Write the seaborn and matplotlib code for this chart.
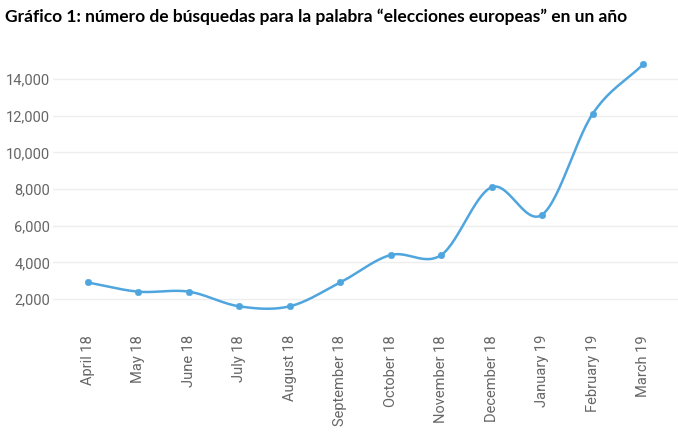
import numpy as np
import pandas as pd
import seaborn as sns
import matplotlib.pyplot as plt

months = ["April 18", "May 18", "June 18", "July 18", "August 18", "September 18",
          "October 18", "November 18", "December 18", "January 19", "February 19", "March 19"]
searches = [2900, 2400, 2400, 1600, 1600, 2900, 4400, 4400, 8100, 6600, 12100, 14800]
yticks = [2000, 4000, 6000, 8000, 10000, 12000, 14000]
title = "Gráfico 1: número de búsquedas para la palabra “elecciones europeas” en un año"

line_color = "#4FA5DE"

sns.set_style("white")
plt.rcParams['font.family'] = ['Roboto', 'DejaVu Sans']

df = pd.DataFrame({"x": np.arange(len(months)), "y": searches})

# smooth curve through the points (Catmull-Rom), like the original chart
def catmull_rom(x, y, n=30):
    x = np.asarray(x, float)
    y = np.asarray(y, float)
    px = np.concatenate([[2 * x[0] - x[1]], x, [2 * x[-1] - x[-2]]])
    py = np.concatenate([[2 * y[0] - y[1]], y, [2 * y[-1] - y[-2]]])
    xs, ys = [], []
    t = np.linspace(0, 1, n)
    for i in range(1, len(px) - 2):
        for p, out in ((px, xs), (py, ys)):
            p0, p1, p2, p3 = p[i - 1], p[i], p[i + 1], p[i + 2]
            out.append(0.5 * (2 * p1 + (-p0 + p2) * t + (2 * p0 - 5 * p1 + 4 * p2 - p3) * t ** 2
                              + (-p0 + 3 * p1 - 3 * p2 + p3) * t ** 3))
    return np.concatenate(xs), np.concatenate(ys)

sx, sy = catmull_rom(df.x, df.y)
smooth = pd.DataFrame({"x": sx, "y": sy})

fig = plt.figure(figsize=(6.78, 4.36), dpi=100)
ax = fig.add_axes([0.078, 0.268, 0.922, 0.6055])

sns.lineplot(data=smooth, x="x", y="y", ax=ax, color=line_color, linewidth=1.8, sort=False)
sns.scatterplot(data=df, x="x", y="y", ax=ax, color=line_color, s=22, edgecolor=line_color, zorder=3)

ax.set_xlim(-0.69, len(months) - 1 + 0.69)
ax.set_ylim(900, 15300)
ax.set_yticks(yticks)
ax.set_yticklabels([f"{v:,}" for v in yticks])
ax.set_xticks(df.x)
ax.set_xticklabels(months, rotation=90, va="top")
ax.tick_params(axis="both", length=0, labelsize=10.5, labelcolor="#666666")
ax.tick_params(axis="x", pad=11.5)
ax.tick_params(axis="y", pad=2)
ax.grid(axis="y", color="#eeeeee", linewidth=1)
ax.set_xlabel("")
ax.set_ylabel("")
sns.despine(left=True, bottom=True)

fig.text(0.007, 0.962, title, fontsize=12.5, fontweight="bold", family=['Lato', 'DejaVu Sans'],
         va="center", ha="left", color="black")

fig.savefig("out.png", dpi=100)
